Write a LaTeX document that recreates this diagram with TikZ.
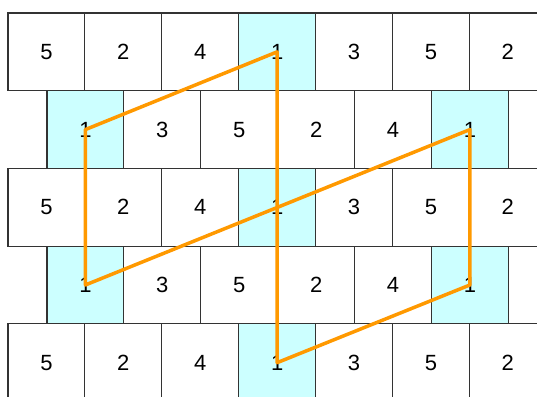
\documentclass[tikz,border=0pt]{standalone}
\usepackage{fontspec}
\setmainfont{Liberation Sans}
\definecolor{cellcyan}{HTML}{CCFFFF}
\definecolor{gridgray}{HTML}{333333}
\definecolor{pathorange}{HTML}{FF9900}
\tikzset{
  cell/.style={draw=gridgray, line width=1.1pt, rectangle, inner sep=0pt,
    minimum width=76.9pt, minimum height=77.7pt, font=\fontsize{22}{22}\selectfont},
  hot/.style={cell, fill=cellcyan},
  route/.style={draw=pathorange, line width=3.5pt, line join=round, line cap=round}
}
\begin{document}
\begin{tikzpicture}[x=1pt,y=-1pt]
\useasboundingbox (0,0) rectangle (537,396);
\clip (0,0) rectangle (537,396);
% even rows (0,2,4)
\foreach \r in {0,2,4}{
  \foreach \d [count=\k from 0] in {5,2,4,1,3,5,2}{
    \ifnum\k=3
      \node[hot] (c\r-\k) at ({8+76.9*\k+38.45},{13+77.7*\r+38.85}) {\d};
    \else
      \node[cell] (c\r-\k) at ({8+76.9*\k+38.45},{13+77.7*\r+38.85}) {\d};
    \fi
  }
}
% odd rows (1,3)
\foreach \r in {1,3}{
  \foreach \d [count=\k from 0] in {1,3,5,2,4,1,{}}{
    \ifnum\k=0
      \node[hot] (c\r-\k) at ({47+76.9*\k+38.45},{13+77.7*\r+38.85}) {\d};
    \else\ifnum\k=5
      \node[hot] (c\r-\k) at ({47+76.9*\k+38.45},{13+77.7*\r+38.85}) {\d};
    \else
      \node[cell] (c\r-\k) at ({47+76.9*\k+38.45},{13+77.7*\r+38.85}) {\d};
    \fi\fi
  }
}
% orange route
\draw[route] (c0-3.center) -- (c1-0.center) -- (c3-0.center) -- (c1-5.center)
  -- (c3-5.center) -- (c4-3.center) -- cycle;
\end{tikzpicture}
\end{document}
